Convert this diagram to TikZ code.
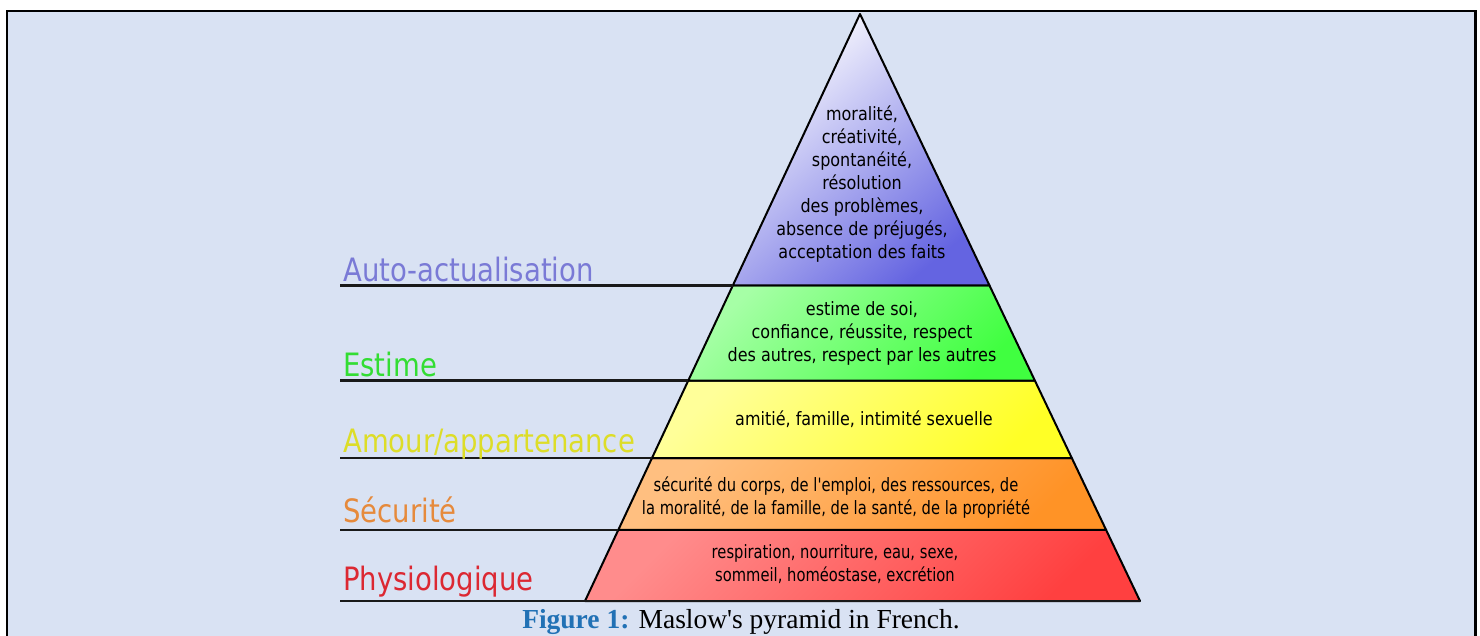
\documentclass[tikz,border=0pt]{standalone}
\usepackage{fontspec}
\usepackage{graphicx}
\setmainfont{Liberation Serif}
\newfontfamily\djv{DejaVu Sans}
\usetikzlibrary{calc}
\definecolor{bgblue}{HTML}{D9E2F3}
\definecolor{capblue}{HTML}{2171B5}
\definecolor{cAuto}{RGB}{122,122,214}
\definecolor{cEst}{RGB}{51,221,51}
\definecolor{cAmour}{RGB}{221,221,40}
\definecolor{cSec}{RGB}{230,138,60}
\definecolor{cPhy}{RGB}{220,40,50}
\newcommand\stk[2][1]{\scalebox{#1}[1.15]{\begin{tabular}{@{}c@{}}#2\end{tabular}}}
\newcommand\lab[1]{\scalebox{1}[1.17]{#1}}
\tikzset{
  tier/.style={draw=black, line width=2pt, line join=round},
  shadetier/.style 2 args={top color=#1, bottom color=#2, shading angle=45},
  levelline/.style={draw=black!90, line width=2.3pt},
  lbl/.style={anchor=base west, inner sep=0pt, font=\djv\fontsize{27.5}{30}\selectfont},
  txt/.style={inner sep=0pt, font=\djv\fontsize{16}{20}\selectfont, text=black},
  frame/.style={fill=bgblue, draw=black, line width=2.5pt}
}
\begin{document}
\begin{tikzpicture}[x=1pt,y=-1pt]
\useasboundingbox (0,0) rectangle (1480,635);
\fill[white] (0,0) rectangle (1480,635);
\draw[frame] (7,11) rectangle (1475.5,660);

% geometry
\coordinate (apex) at (860,14);
\coordinate (bl) at (585,601);
\coordinate (br) at (1140,601);
\coordinate (l1) at ($(apex)!0.4625!(bl)$);
\coordinate (r1) at ($(apex)!0.4625!(br)$);
\coordinate (l2) at ($(apex)!0.6244!(bl)$);
\coordinate (r2) at ($(apex)!0.6244!(br)$);
\coordinate (l3) at ($(apex)!0.7564!(bl)$);
\coordinate (r3) at ($(apex)!0.7564!(br)$);
\coordinate (l4) at ($(apex)!0.8790!(bl)$);
\coordinate (r4) at ($(apex)!0.8790!(br)$);

% tiers
\path[tier, shadetier={red!45!white}{red!75!white}] (l4) -- (r4) -- (br) -- (bl) -- cycle;
\path[tier, shadetier={orange!50!white}{orange!85!white}] (l3) -- (r3) -- (r4) -- (l4) -- cycle;
\path[tier, shadetier={yellow!40!white}{yellow!85!white}] (l2) -- (r2) -- (r3) -- (l3) -- cycle;
\path[tier, shadetier={green!35!white}{green!75!white}] (l1) -- (r1) -- (r2) -- (l2) -- cycle;
\path[tier, top color=white, bottom color={rgb,255:red,100;green,100;blue,225}, shading angle=40] (apex) -- (r1) -- (l1) -- cycle;

% level lines
\coordinate (s1) at (340,0 |- l1);
\coordinate (s2) at (340,0 |- l2);
\coordinate (s3) at (340,0 |- l3);
\coordinate (s4) at (340,0 |- l4);
\coordinate (s5) at (340,0 |- bl);
\draw[levelline] (s1) -- (l1);
\draw[levelline] (s2) -- (l2);
\draw[levelline] (s3) -- (l3);
\draw[levelline] (s4) -- (l4);
\draw[levelline] (s5) -- (br);

% labels
\node[lbl, text=cAuto] (la) at (343,281.5) {\lab{Auto-actualisation}};
\node[lbl, text=cEst] (le) at (343,376) {\lab{Estime}};
\node[lbl, text=cAmour] (lm) at (343,452) {\lab{Amour/appartenance}};
\node[lbl, text=cSec] (ls) at (343,522) {\lab{Sécurité}};
\node[lbl, text=cPhy] (lp) at (343,590) {\lab{Physiologique}};

% tier texts
\node[txt] (ta) at (862,185.3) {\stk{moralité,\\créativité,\\spontanéité,\\résolution\\des problèmes,\\absence de préjugés,\\acceptation des faits}};
\node[txt] (te) at (862,333.9) {\stk{estime de soi,\\confiance, réussite, respect\\des autres, respect par les autres}};
\node[txt] (tm) at (864,420.4) {\stk{amitié, famille, intimité sexuelle}};
\node[txt] (ts) at (836,497.9) {\stk[0.92]{sécurité du corps, de l\textquotesingle emploi, des ressources, de\\la moralité, de la famille, de la santé, de la propriété}};
\node[txt] (tp) at (835,565.4) {\stk[0.92]{respiration, nourriture, eau, sexe,\\sommeil, homéostase, excrétion}};

% caption
\node[anchor=base, inner sep=0pt, font=\fontsize{27.5}{30}\selectfont] (cap) at (741,628) {{\bfseries\color{capblue}Figure 1:} Maslow\textquotesingle s pyramid in French.};
\end{tikzpicture}
\end{document}
